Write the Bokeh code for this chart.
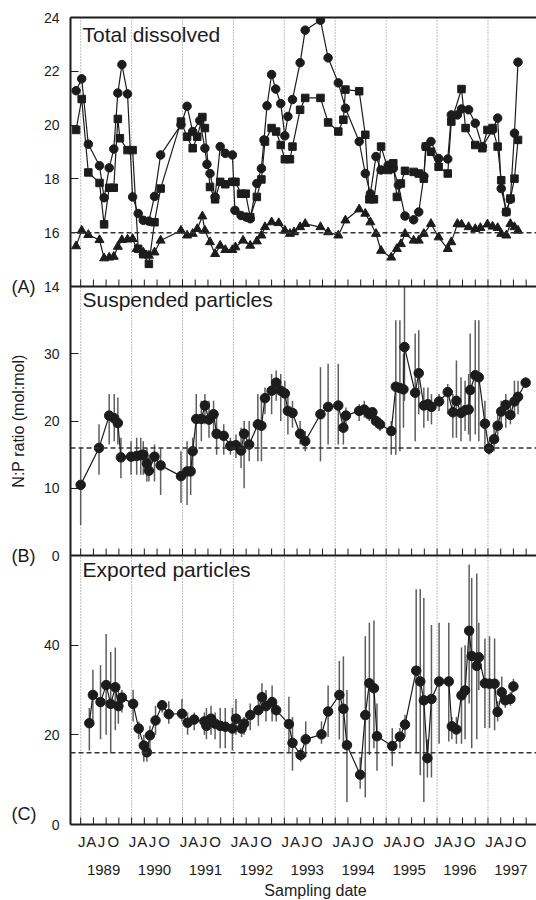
from bokeh.plotting import figure
from bokeh.layouts import row, column
from bokeh.models import Range1d, FixedTicker, LinearAxis, Span, Label
from bokeh.embed import file_html
from bokeh.resources import INLINE

FONT = "Liberation Sans"
INK = "#1c1c1c"

# ---------------- Panel A: total dissolved N:P ----------------
dis_circle_x = [1988.91, 1989.02, 1989.15, 1989.37, 1989.46, 1989.56, 1989.65, 1989.73, 1989.81, 1989.92,
                1990.02, 1990.13, 1990.23, 1990.34, 1990.45, 1990.57, 1990.97,
                1991.09, 1991.20, 1991.34, 1991.44, 1991.48, 1991.54, 1991.64, 1991.74, 1991.84, 1991.98,
                1992.03, 1992.15, 1992.25, 1992.33, 1992.46, 1992.55, 1992.60, 1992.66, 1992.75, 1992.83, 1992.93,
                1993.01, 1993.07, 1993.16, 1993.31, 1993.41, 1993.71, 1993.86,
                1994.06, 1994.20, 1994.47, 1994.59, 1994.69, 1994.80, 1994.90,
                1995.04, 1995.14, 1995.24, 1995.37, 1995.54, 1995.64, 1995.74, 1995.78, 1995.88,
                1996.03, 1996.21, 1996.28, 1996.40, 1996.48, 1996.62, 1996.75, 1996.89,
                1997.09, 1997.19, 1997.26, 1997.36, 1997.44, 1997.52, 1997.59]
dis_circle_y = [21.28, 21.72, 19.29, 18.49, 17.30, 18.41, 19.11, 21.19, 22.25, 21.16,
                17.33, 16.71, 16.46, 16.43, 17.35, 18.89, 20.01,
                20.70, 19.76, 20.17, 19.14, 18.54, 18.20, 17.33, 19.20, 18.95, 18.89,
                16.83, 16.64, 16.58, 16.52, 17.83, 18.39, 19.45, 20.72, 21.88, 21.34, 20.80,
                19.60, 20.32, 20.95, 22.32, 23.53, 23.90, 22.50,
                21.57, 20.63, 19.39, 18.20, 17.45, 18.83, 18.33,
                18.51, 18.39, 17.77, 16.62, 16.48, 16.77, 18.10, 19.20, 19.39,
                18.76, 18.74, 20.38, 20.38, 20.60, 20.57, 20.07, 19.20,
                19.82, 20.26, 17.64, 16.77, 17.24, 19.70, 22.34]

dis_square_x = [1988.91, 1989.02, 1989.15, 1989.37, 1989.46, 1989.56, 1989.65, 1989.73, 1989.77, 1989.92,
                1990.02, 1990.13, 1990.23, 1990.34, 1990.45, 1990.57, 1990.97,
                1991.09, 1991.20, 1991.29, 1991.39, 1991.44, 1991.54, 1991.64, 1991.74, 1991.84, 1991.98,
                1992.04, 1992.15, 1992.24, 1992.33, 1992.46, 1992.55, 1992.62, 1992.75, 1992.84, 1992.93,
                1993.01, 1993.11, 1993.16, 1993.31, 1993.41, 1993.71, 1993.86,
                1994.06, 1994.16, 1994.20, 1994.47, 1994.59, 1994.67, 1994.76, 1994.90,
                1995.04, 1995.14, 1995.21, 1995.29, 1995.37, 1995.54, 1995.64, 1995.74, 1995.78, 1995.88,
                1996.03, 1996.21, 1996.28, 1996.48, 1996.56, 1996.75, 1996.89, 1996.99,
                1997.09, 1997.19, 1997.26, 1997.36, 1997.44, 1997.52, 1997.59]
dis_square_y = [19.82, 20.97, 18.24, 17.85, 16.31, 17.67, 17.67, 20.23, 19.51, 19.07,
                19.07, 15.40, 15.20, 14.84, 16.39, 17.64, 20.13,
                19.57, 19.14, 19.57, 20.30, 19.89, 17.70, 17.24, 17.89, 17.80, 17.89,
                17.89, 17.45, 17.45, 16.58, 17.33, 17.98, 19.39, 19.89, 19.76, 19.26,
                18.73, 18.73, 19.20, 20.57, 21.01, 21.01, 20.10,
                19.76, 20.20, 21.32, 21.26, 19.64, 17.24, 17.24, 19.20,
                18.33, 18.58, 17.33, 17.83, 18.30, 18.26, 18.20, 18.01, 19.20, 19.01,
                18.45, 18.20, 20.13, 21.34, 19.89, 19.26, 19.14, 19.82,
                19.89, 19.20, 17.95, 16.77, 17.27, 18.01, 19.45]

dis_triangle_x = [1988.91, 1989.02, 1989.15, 1989.37, 1989.46, 1989.56, 1989.65, 1989.73, 1989.81, 1989.92,
                  1990.02, 1990.10, 1990.23, 1990.34, 1990.45, 1990.57, 1990.97,
                  1991.09, 1991.20, 1991.29, 1991.39, 1991.44, 1991.54, 1991.64, 1991.74, 1991.84, 1991.98,
                  1992.04, 1992.19, 1992.33, 1992.46, 1992.55, 1992.62, 1992.75, 1992.89,
                  1993.01, 1993.11, 1993.19, 1993.31, 1993.41, 1993.71, 1993.86,
                  1994.06, 1994.20, 1994.47, 1994.59, 1994.69, 1994.80, 1994.90,
                  1995.10, 1995.21, 1995.29, 1995.37, 1995.54, 1995.64, 1995.74, 1995.88,
                  1996.03, 1996.21, 1996.28, 1996.40, 1996.48, 1996.62, 1996.75, 1996.85, 1996.99,
                  1997.09, 1997.19, 1997.26, 1997.36, 1997.44, 1997.52, 1997.59]
dis_triangle_y = [15.50, 16.08, 15.92, 15.73, 15.05, 15.08, 15.11, 15.48, 15.73, 15.75,
                  15.77, 15.40, 15.27, 15.15, 15.27, 15.71, 16.08,
                  15.90, 15.96, 16.14, 16.61, 16.08, 15.65, 15.21, 15.52, 15.36, 15.36,
                  15.46, 15.71, 15.52, 15.68, 15.90, 16.21, 16.39, 16.36,
                  16.08, 15.96, 16.02, 16.21, 16.33, 16.21, 16.02,
                  15.90, 16.46, 16.87, 16.71, 16.39, 15.96, 15.33,
                  15.08, 15.40, 15.58, 15.96, 15.71, 15.71, 15.96, 16.33,
                  15.83, 15.40, 15.65, 16.33, 16.31, 16.21, 16.14, 16.18, 16.31,
                  16.23, 16.18, 15.96, 15.90, 16.33, 16.21, 16.08]

# ---------------- Panel B: suspended particles ----------------
sus_x = [1989.00, 1989.36, 1989.56, 1989.66, 1989.73, 1989.79, 1989.99,
         1990.10, 1990.18, 1990.23, 1990.30, 1990.34, 1990.45, 1990.57, 1990.97,
         1991.09, 1991.16, 1991.20, 1991.27, 1991.37, 1991.44, 1991.52, 1991.61, 1991.67, 1991.81, 1991.94,
         1992.05, 1992.15, 1992.21, 1992.31, 1992.48, 1992.55, 1992.62, 1992.75, 1992.84, 1992.93,
         1993.01, 1993.07, 1993.16, 1993.31, 1993.41, 1993.71, 1993.86,
         1994.06, 1994.16, 1994.21, 1994.47, 1994.57, 1994.67, 1994.73, 1994.80, 1994.88,
         1995.10, 1995.19, 1995.27, 1995.34, 1995.36, 1995.57, 1995.64, 1995.74, 1995.82, 1995.89,
         1996.04, 1996.21, 1996.31, 1996.38, 1996.47, 1996.55, 1996.62, 1996.65, 1996.75, 1996.82, 1996.94,
         1997.02, 1997.12, 1997.19, 1997.26, 1997.35, 1997.44, 1997.52, 1997.59, 1997.74]
sus_y = [10.5, 16.0, 20.8, 20.4, 19.7, 14.6, 14.7,
         14.8, 14.9, 15.0, 13.7, 12.6, 14.7, 13.4, 11.8,
         12.5, 12.5, 15.5, 20.3, 20.3, 22.3, 20.2, 21.0, 18.1, 17.8, 16.3,
         16.4, 15.6, 18.1, 16.5, 19.5, 19.3, 23.4, 24.5, 25.7, 24.5,
         24.1, 21.5, 21.2, 18.1, 17.0, 21.0, 22.1,
         22.3, 19.0, 20.8, 21.5, 21.7, 21.0, 21.3, 20.0, 19.5,
         18.5, 25.1, 24.9, 24.7, 31.0, 24.2, 27.1, 22.3, 22.5, 22.1,
         22.9, 24.3, 21.3, 23.0, 21.2, 21.6, 21.7, 24.6, 26.8, 26.5, 19.6,
         15.9, 17.3, 19.3, 21.4, 22.4, 20.9, 22.9, 23.6, 25.7]
sus_lo = [4.5, 12.0, 16.5, 17.0, 16.5, 11.5, 12.0,
          12.0, 12.0, 12.0, 11.0, 11.0, 11.0, 9.0, 7.8,
          7.5, 9.0, 12.0, 16.0, 17.0, 19.5, 17.5, 18.0, 15.0, 15.0, 15.0,
          14.5, 13.0, 10.0, 14.0, 14.0, 14.0, 21.0, 21.0, 23.0, 20.0,
          21.5, 18.0, 19.0, 16.5, 15.5, 14.0, 16.5,
          16.5, 16.5, 19.5, 20.0, 20.5, 20.0, 19.5, 19.0, 18.5,
          15.0, 15.0, 15.5, 19.0, 23.0, 17.0, 21.0, 19.0, 20.0, 19.5,
          21.5, 21.0, 17.5, 17.5, 17.0, 18.5, 18.0, 17.0, 18.0, 17.0, 16.0,
          15.0, 15.5, 17.0, 19.5, 19.0, 19.5, 21.0, 21.0, 25.0]
sus_hi = [16.0, 19.5, 24.0, 24.0, 23.5, 17.5, 17.0,
          17.5, 17.5, 17.0, 16.0, 15.0, 16.5, 16.0, 15.5,
          17.0, 16.0, 17.5, 24.0, 23.0, 24.0, 23.0, 23.0, 21.0, 19.5, 17.5,
          18.0, 19.0, 20.0, 20.0, 24.0, 23.0, 25.0, 27.0, 27.5, 27.0,
          26.0, 24.0, 23.0, 20.0, 18.5, 28.0, 28.5,
          28.5, 21.0, 22.0, 22.5, 23.0, 22.0, 22.0, 21.0, 20.5,
          20.0, 35.0, 35.0, 30.0, 40.0, 33.0, 33.5, 25.0, 25.0, 24.0,
          24.0, 25.5, 24.0, 29.0, 26.5, 26.0, 27.0, 33.0, 35.0, 35.0, 23.0,
          17.0, 19.0, 21.0, 23.0, 24.0, 23.0, 26.0, 26.0, 26.5]

# ---------------- Panel C: exported particles ----------------
exp_x = [1989.17, 1989.24, 1989.39, 1989.50, 1989.59, 1989.68, 1989.74, 1989.81,
         1990.03, 1990.14, 1990.24, 1990.30, 1990.36, 1990.47, 1990.60, 1990.73,
         1990.99, 1991.10, 1991.23, 1991.43, 1991.47, 1991.56, 1991.64, 1991.74, 1991.84,
         1991.98, 1992.05, 1992.16, 1992.21, 1992.33, 1992.49, 1992.56, 1992.64, 1992.76, 1992.84,
         1993.09, 1993.16, 1993.32, 1993.42, 1993.73, 1993.86,
         1994.08, 1994.16, 1994.23, 1994.49, 1994.59, 1994.67, 1994.76, 1994.82,
         1995.12, 1995.27, 1995.37, 1995.59, 1995.67, 1995.74, 1995.81, 1995.89,
         1996.04, 1996.23, 1996.29, 1996.38, 1996.48, 1996.55, 1996.63, 1996.68, 1996.78, 1996.82, 1996.94,
         1997.03, 1997.13, 1997.19, 1997.27, 1997.34, 1997.44, 1997.50]
exp_y = [22.6, 28.9, 27.3, 31.1, 26.9, 30.6, 26.4, 28.3,
         26.9, 21.4, 17.6, 16.1, 19.9, 23.2, 26.6, 24.6,
         24.7, 22.7, 23.4, 23.0, 22.0, 23.6, 22.5, 22.0, 21.8,
         21.4, 23.6, 21.4, 22.5, 24.4, 25.5, 28.4, 26.4, 27.3, 25.5,
         22.4, 18.2, 15.5, 19.0, 20.1, 25.2,
         28.9, 25.8, 17.7, 11.1, 24.4, 31.5, 30.4, 19.7,
         17.5, 19.6, 22.3, 34.3, 31.9, 27.7, 14.8, 28.0,
         31.9, 31.9, 21.9, 21.2, 28.8, 29.9, 43.2, 37.6, 35.4, 37.3, 31.5,
         31.4, 31.4, 25.1, 29.5, 27.7, 28.0, 30.8]
exp_lo = [16.5, 23.0, 19.0, 20.0, 16.0, 21.0, 22.5, 25.0,
          23.0, 19.0, 14.0, 14.0, 16.0, 20.0, 25.0, 22.5,
          23.0, 20.0, 21.0, 20.0, 19.0, 20.0, 19.0, 17.0, 17.0,
          16.5, 20.0, 19.5, 20.0, 21.0, 22.0, 25.0, 23.0, 23.0, 23.0,
          16.0, 12.0, 14.0, 15.0, 18.0, 19.5,
          19.0, 17.0, 5.0, 8.0, 6.0, 15.5, 17.0, 12.0,
          13.0, 17.0, 19.5, 16.0, 11.0, 5.0, 10.5, 10.5,
          18.0, 18.5, 19.0, 18.0, 18.0, 19.0, 27.0, 17.0, 19.0, 30.0, 21.5,
          21.5, 21.0, 23.0, 27.0, 26.0, 26.5, 29.5]
exp_hi = [26.0, 34.5, 35.5, 42.5, 38.5, 39.5, 30.0, 30.0,
          30.0, 23.0, 20.0, 18.0, 22.0, 26.5, 27.0, 27.5,
          28.0, 25.0, 25.0, 25.0, 26.0, 26.5, 25.0, 26.0, 26.0,
          26.0, 28.0, 23.0, 24.0, 27.0, 28.0, 31.5, 30.0, 31.0, 27.0,
          28.5, 24.0, 17.0, 23.0, 23.0, 31.0,
          36.5, 37.5, 30.0, 15.0, 42.0, 45.0, 45.5, 27.0,
          21.5, 21.5, 24.5, 52.5, 52.5, 50.5, 19.0, 44.5,
          45.0, 45.0, 24.0, 24.0, 39.5, 40.0, 58.0, 55.0, 56.0, 45.0, 41.5,
          42.0, 41.5, 27.5, 33.0, 29.5, 29.5, 32.5]

# ---------------- axes definitions ----------------
years = list(range(1989, 1998))
month_letters = ["J", "A", "J", "O"]
A_TICKS = [14, 16, 18, 20, 22, 24]
B_TICKS = [0, 10, 20, 30]
C_TICKS = [0, 20, 40]
REDFIELD = 16
panel_titles = ["Total dissolved", "Suspended particles", "Exported particles"]
panel_letters = ["(A)", "(B)", "(C)"]
x_title = "Sampling date"

X_START, X_END = 1988.80, 1997.953
A_LIM, B_LIM, C_LIM = (14, 24), (0, 40), (0, 60)

# layout (pixels)
PAGE_W = 536
MAIN_H = 880
STRIP_H = 20
BORDER_TOP = 17
FRAME_H = 807
BORDER_BOTTOM = MAIN_H - BORDER_TOP - FRAME_H
PANEL_H = FRAME_H / 3
SIDE_W = 40
FRAME_LEFT = 68


def slot_range(lim, slot):
    lo, hi = lim
    s = hi - lo
    return Range1d(lo - slot * s, hi + (2 - slot) * s)


def to_slot(v, lim, slot):
    lo, hi = lim
    return slot + (v - lo) / (hi - lo)


# ---------------- side strip with panel letters and y title ----------------
side = figure(width=SIDE_W, height=MAIN_H, x_range=Range1d(0, SIDE_W), y_range=Range1d(0, 3),
              output_backend="svg", toolbar_location=None,
              min_border_left=0, min_border_right=0, min_border_top=BORDER_TOP,
              min_border_bottom=BORDER_BOTTOM, x_axis_location=None, y_axis_location=None)
side.outline_line_color = None
side.grid.visible = False
letter_dy = [0.0, 0.0, 11 / PANEL_H]
for i, txt in enumerate(panel_letters):
    side.add_layout(Label(x=11, y=2 - i + letter_dy[i], text=txt, text_font=FONT, text_font_size="18px",
                          text_color=INK, text_baseline="middle", text_align="left"))
side.add_layout(Label(x=18, y=1.5, text="N:P ratio (mol:mol)", angle=1.5708, angle_units="rad",
                      text_font=FONT, text_font_size="16px", text_color=INK,
                      text_baseline="middle", text_align="center"))

# ---------------- main plot ----------------
p = figure(width=PAGE_W - SIDE_W, height=MAIN_H, x_range=Range1d(X_START, X_END), y_range=Range1d(0, 3),
           output_backend="svg", toolbar_location=None,
           min_border_left=FRAME_LEFT - SIDE_W, min_border_right=0, min_border_top=BORDER_TOP,
           min_border_bottom=BORDER_BOTTOM, x_axis_location=None, y_axis_location=None)
p.extra_y_ranges = {"A": slot_range(A_LIM, 2), "B": slot_range(B_LIM, 1), "C": slot_range(C_LIM, 0)}
p.outline_line_color = None
p.grid.visible = False

# vertical dotted year lines
for y in years:
    p.add_layout(Span(location=y, dimension="height", line_color="#808080", line_dash="1 2",
                      line_width=1, level="underlay"))

# Redfield dashed lines
for name in ("A", "B", "C"):
    p.add_layout(Span(location=REDFIELD, dimension="width", y_range_name=name, line_color="#333333",
                      line_dash="5 3", line_width=1.5))

# panel separators
for s in (1, 2):
    p.add_layout(Span(location=s, dimension="width", line_color=INK, line_width=2))

# inward quarter ticks at the bottom of every panel
quarters = [y + q for y in years for q in (0.0, 0.25, 0.5, 0.75)]
tick_len = 7 / PANEL_H
for s in (0, 1, 2):
    p.segment(x0=quarters, y0=[s] * len(quarters), x1=quarters, y1=[s + tick_len] * len(quarters),
              line_color=INK, line_width=1)

# left axis (all three panels)
ypos = ([to_slot(v, A_LIM, 2) for v in A_TICKS] + [to_slot(v, B_LIM, 1) for v in B_TICKS]
        + [to_slot(v, C_LIM, 0) for v in C_TICKS])
ylab = [str(v) for v in A_TICKS + B_TICKS + C_TICKS]
left = LinearAxis(ticker=FixedTicker(ticks=ypos), major_label_overrides=dict(zip(ypos, ylab)),
                  major_label_text_font=FONT, major_label_text_font_size="14px",
                  major_label_text_color=INK, major_label_standoff=11,
                  major_tick_in=8, major_tick_out=0, major_tick_line_color=INK,
                  minor_tick_line_color=None, axis_line_width=2, axis_line_color=INK)
p.add_layout(left, "left")

top = LinearAxis(ticker=FixedTicker(ticks=[]), axis_line_width=2, axis_line_color=INK,
                 major_tick_in=0, major_tick_out=0, minor_tick_line_color=None, major_label_standoff=0)
p.add_layout(top, "above")

bottom = LinearAxis(ticker=FixedTicker(ticks=[]), axis_line_width=2, axis_line_color=INK,
                    major_tick_in=0, major_tick_out=0, minor_tick_line_color=None, major_label_standoff=0)
p.add_layout(bottom, "below")

letter_offsets = [0.02, 0.21, 0.41, 0.64]
lpos = [y + o for y in years for o in letter_offsets]
llab = month_letters * len(years)
months_axis = LinearAxis(ticker=FixedTicker(ticks=lpos), major_label_overrides=dict(zip(lpos, llab)),
                         axis_line_color=None, major_tick_line_color=None, minor_tick_line_color=None,
                         major_tick_in=0, major_tick_out=0, major_label_standoff=8,
                         major_label_text_font=FONT, major_label_text_font_size="15px",
                         major_label_text_color=INK)
p.add_layout(months_axis, "below")

ypos_years = [y + 0.45 for y in years]
years_axis = LinearAxis(ticker=FixedTicker(ticks=ypos_years),
                        major_label_overrides=dict(zip(ypos_years, [str(y) for y in years])),
                        axis_line_color=None, major_tick_line_color=None, minor_tick_line_color=None,
                        major_tick_in=0, major_tick_out=0, major_label_standoff=12,
                        major_label_text_font=FONT, major_label_text_font_size="15px",
                        major_label_text_color=INK)
p.add_layout(years_axis, "below")

# ---------------- data glyphs ----------------
p.line(dis_circle_x, dis_circle_y, y_range_name="A", line_color=INK, line_width=1.2)
p.line(dis_square_x, dis_square_y, y_range_name="A", line_color=INK, line_width=1.2)
p.line(dis_triangle_x, dis_triangle_y, y_range_name="A", line_color=INK, line_width=1.2)
p.scatter(dis_circle_x, dis_circle_y, y_range_name="A", marker="circle", size=8.5,
          fill_color=INK, line_color=INK)
p.scatter(dis_square_x, dis_square_y, y_range_name="A", marker="square", size=7.5,
          fill_color=INK, line_color=INK)
p.scatter(dis_triangle_x, dis_triangle_y, y_range_name="A", marker="triangle", size=9,
          fill_color=INK, line_color=INK)

p.segment(x0=sus_x, y0=sus_lo, x1=sus_x, y1=sus_hi, y_range_name="B", line_color="#5e5e5e", line_width=1.5)
p.line(sus_x, sus_y, y_range_name="B", line_color=INK, line_width=1.2)
p.scatter(sus_x, sus_y, y_range_name="B", marker="circle", size=9.5, fill_color=INK, line_color=INK)

p.segment(x0=exp_x, y0=exp_lo, x1=exp_x, y1=exp_hi, y_range_name="C", line_color="#5e5e5e", line_width=1.5)
p.line(exp_x, exp_y, y_range_name="C", line_color=INK, line_width=1.2)
p.scatter(exp_x, exp_y, y_range_name="C", marker="circle", size=9.5, fill_color=INK, line_color=INK)

# ---------------- panel titles ----------------
title_dy = [-17, -13, -14]
for i, txt in enumerate(panel_titles):
    p.add_layout(Label(x=X_START, y=3 - i, x_offset=12, y_offset=title_dy[i], text=txt, text_font=FONT,
                       text_font_size="21px", text_color=INK, text_baseline="alphabetic"))

# ---------------- bottom strip with the x title ----------------
strip = figure(width=PAGE_W, height=STRIP_H, x_range=Range1d(0, PAGE_W), y_range=Range1d(0, STRIP_H),
               output_backend="svg", toolbar_location=None, title=None,
               min_border_left=0, min_border_right=0, min_border_top=0, min_border_bottom=0,
               x_axis_location=None, y_axis_location=None)
strip.outline_line_color = None
strip.grid.visible = False
strip.add_layout(Label(x=315, y=STRIP_H - 10, text=x_title, text_font=FONT, text_font_size="16px",
                       text_color=INK, text_baseline="middle", text_align="center"))

layout = column(row(side, p), strip)
open("out.html", "w").write(file_html(layout, INLINE))
